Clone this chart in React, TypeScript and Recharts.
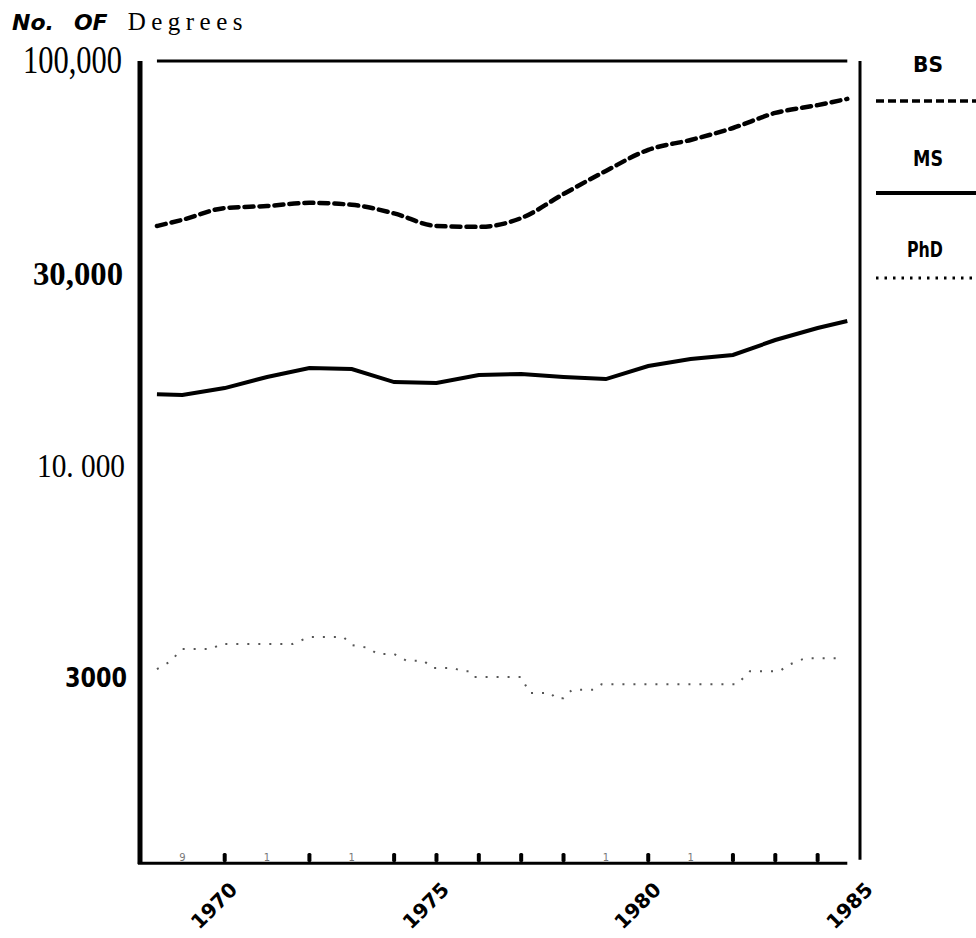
import { LineChart, Line, XAxis, YAxis, ReferenceLine } from "recharts"

const bsYears = [1968.4, 1969, 1970, 1971, 1972, 1973, 1974, 1975, 1976, 1977, 1978, 1979, 1980, 1981, 1982, 1983, 1984, 1984.7]
const bsDegrees = [39100, 40500, 43300, 43800, 44600, 44100, 42000, 39100, 38900, 40900, 46900, 53500, 60300, 63800, 68300, 74400, 77800, 80600]

const msYears = [1968.4, 1969, 1970, 1971, 1972, 1973, 1974, 1975, 1976, 1977, 1978, 1979, 1980, 1981, 1982, 1983, 1984, 1984.7]
const msDegrees = [15000, 14940, 15540, 16550, 17420, 17320, 16080, 15990, 16740, 16830, 16550, 16360, 17620, 18340, 18760, 20430, 21880, 22760]

const phdYears = [1968.4, 1968.7, 1969, 1969.7, 1969.9, 1971.6, 1972, 1972.8, 1973, 1973.4, 1973.6, 1974, 1974.3, 1974.7, 1974.9, 1975.4, 1975.6, 1975.8, 1975.9, 1977, 1977.2, 1977.7, 1977.8, 1978, 1978.2, 1978.7, 1978.9, 1982.1, 1982.4, 1983.1, 1983.3, 1983.7, 1984.6]
const phdDegrees = [3140, 3270, 3520, 3520, 3620, 3620, 3770, 3770, 3600, 3540, 3420, 3420, 3290, 3290, 3160, 3160, 3100, 3100, 3000, 3000, 2740, 2740, 2660, 2660, 2790, 2790, 2880, 2880, 3100, 3100, 3210, 3340, 3340]

const tickYears = [1969, 1970, 1971, 1972, 1973, 1974, 1975, 1976, 1977, 1978, 1979, 1980, 1981, 1982, 1983, 1984, 1985]
const tickMarks = ["9", "bar", "1", "bar", "1", "bar", "bar", "bar", "bar", "bar", "1", "bar", "1", "bar", "bar", "bar", ""]
const labelYears = [1970, 1975, 1980, 1985]

const yTicks = [3000, 10000, 30000, 100000]
const yTickLabels = ["3000", "10. 000", "30,000", "100,000"]

const legendNames = ["BS", "MS", "PhD"]

const toPoints = (years: number[], values: number[]) => years.map((year, i) => ({ year, value: values[i] }))

const yLabelStyle = [
  { x: 127, dy: 10, font: "DejaVu Sans", size: 27, weight: 700, len: 62 },
  { x: 125, dy: 11.5, font: "Liberation Serif", size: 33, weight: 400, len: 88 },
  { x: 123, dy: 12.5, font: "Liberation Serif", size: 34, weight: 700, len: 90 },
  { x: 122, dy: 12, font: "Liberation Serif", size: 41, weight: 400, len: 99 },
]

function YTick({ y, payload }: any) {
  const i = yTicks.indexOf(payload.value)
  const s = yLabelStyle[i]
  return (
    <text x={s.x} y={y + s.dy} textAnchor="end" fontFamily={s.font} fontSize={s.size} fontWeight={s.weight}
      textLength={s.len} lengthAdjust="spacingAndGlyphs" fill="#000">{yTickLabels[i]}</text>
  )
}

function XTick({ x, y, payload }: any) {
  const year = payload.value
  const mark = tickMarks[tickYears.indexOf(year)]
  return (
    <g>
      {mark === "bar" && <rect x={x - 2} y={y - 11} width={4} height={9} rx={1.5} fill="#000" />}
      {mark !== "bar" && mark !== "" && (
        <text x={x} y={y - 3} textAnchor="middle" fontFamily="DejaVu Sans" fontSize={10} fill="#777">{mark}</text>
      )}
      {labelYears.includes(year) && (
        <text x={x + 14} y={y + 27} transform={`rotate(-45, ${x + 14}, ${y + 27})`} textAnchor="end"
          fontFamily="DejaVu Sans" fontWeight={700} fontSize={20} fill="#000">{year}</text>
      )}
    </g>
  )
}

const sansBoldItalic = { fontFamily: "DejaVu Sans", fontWeight: 700, fontStyle: "italic", fontSize: 22, lineHeight: "30px" }

export default function App() {
  const yMin = 1035
  return (
    <div style={{ position: "absolute", left: 0, top: 0, width: 976, height: 938, background: "#fff" }}>
      <LineChart width={976} height={938} margin={{ top: 61, right: 116, bottom: 0, left: 0 }}>
        <XAxis dataKey="year" type="number" domain={[1968, 1985]} ticks={tickYears} allowDataOverflow
          height={74} axisLine={false} tickLine={false} tickSize={0} tickMargin={0} tick={<XTick />} interval={0} />
        <YAxis type="number" scale="log" domain={[yMin, 100000]} ticks={yTicks} allowDataOverflow
          width={140} axisLine={{ stroke: "#000", strokeWidth: 5 }} tickLine={false} tick={<YTick />} interval={0} />
        <ReferenceLine ifOverflow="visible" segment={[{ x: 1968.4, y: 100000 }, { x: 1984.7, y: 100000 }]} stroke="#000" strokeWidth={3} />
        <ReferenceLine ifOverflow="visible" segment={[{ x: 1985, y: 100000 }, { x: 1985, y: 1060 }]} stroke="#000" strokeWidth={3} />
        <ReferenceLine ifOverflow="visible" segment={[{ x: 1967.95, y: 1040 }, { x: 1984.7, y: 1040 }]} stroke="#000" strokeWidth={3} />
        <Line data={toPoints(bsYears, bsDegrees)} dataKey="value" name="BS" type="monotone" stroke="#000" strokeWidth={4.5}
          strokeDasharray="9 6" strokeLinecap="round" dot={false} isAnimationActive={false} />
        <Line data={toPoints(msYears, msDegrees)} dataKey="value" name="MS" type="linear" stroke="#000" strokeWidth={4}
          dot={false} isAnimationActive={false} />
        <Line data={toPoints(phdYears, phdDegrees)} dataKey="value" name="PhD" type="linear" stroke="#555" strokeWidth={2}
          strokeDasharray="2 9" dot={false} isAnimationActive={false} />
      </LineChart>
      <div style={{ position: "absolute", left: 12, top: 7, whiteSpace: "nowrap", fontFamily: "Liberation Serif", fontSize: 25, lineHeight: "30px" }}>
        <span style={sansBoldItalic}>No.</span>
        <span style={{ ...sansBoldItalic, marginLeft: 20 }}>OF</span>
        <span style={{ marginLeft: 20, letterSpacing: 5.5 }}>Degrees</span>
      </div>
      <svg width={976} height={938} style={{ position: "absolute", left: 0, top: 0, pointerEvents: "none" }}>
        <text x={928} y={72} textAnchor="middle" fontFamily="DejaVu Sans" fontWeight={700} fontSize={22} textLength={30} lengthAdjust="spacingAndGlyphs">{legendNames[0]}</text>
        <line x1={876} x2={976} y1={101} y2={101} stroke="#000" strokeWidth={3.5} strokeDasharray="8 4" />
        <text x={928} y={166} textAnchor="middle" fontFamily="DejaVu Sans" fontWeight={700} fontSize={22} textLength={30} lengthAdjust="spacingAndGlyphs">{legendNames[1]}</text>
        <line x1={876} x2={976} y1={193} y2={193} stroke="#000" strokeWidth={4} />
        <text x={925} y={257} textAnchor="middle" fontFamily="DejaVu Sans" fontWeight={700} fontSize={22} textLength={36} lengthAdjust="spacingAndGlyphs">{legendNames[2]}</text>
        <line x1={876} x2={976} y1={278} y2={278} stroke="#000" strokeWidth={3} strokeDasharray="2.5 6" />
      </svg>
    </div>
  )
}
